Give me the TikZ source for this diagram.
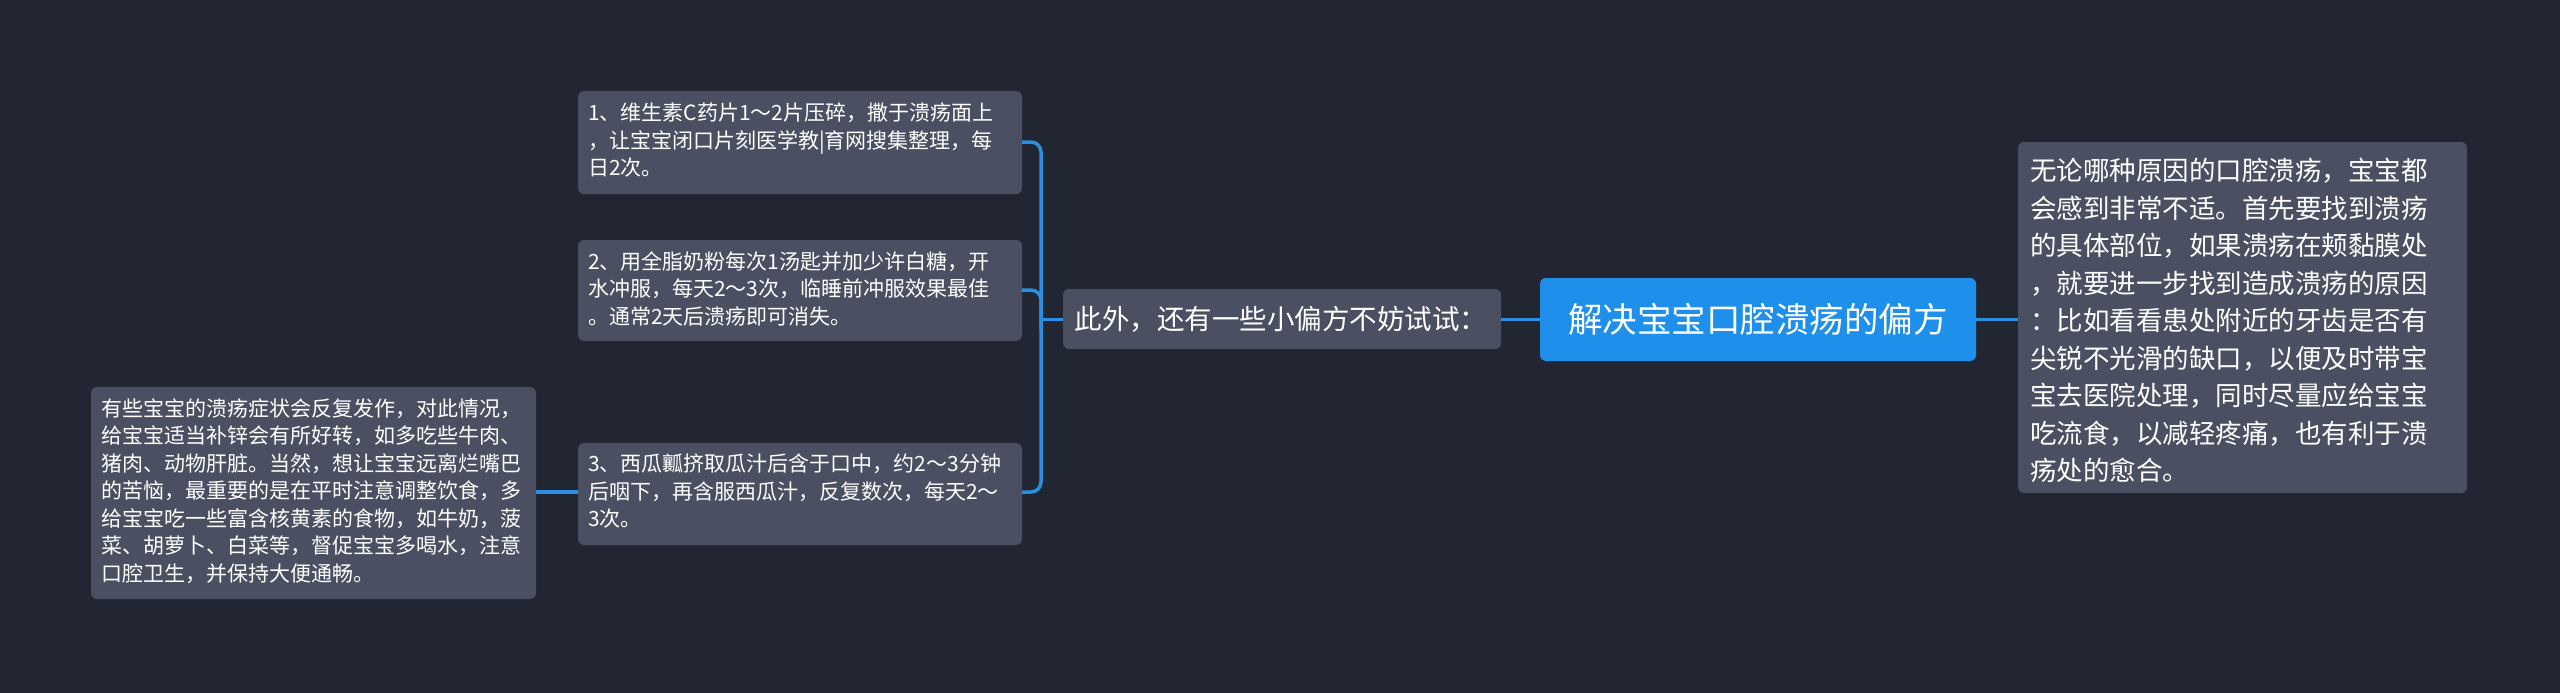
\documentclass[tikz,border=0pt]{standalone}
\usepackage{fontspec}
\setmainfont{Noto Sans CJK SC}
\definecolor{bg}{HTML}{222632}
\definecolor{boxc}{HTML}{4A5061}
\definecolor{ln}{HTML}{2A8FE0}
\definecolor{rootc}{HTML}{1E8FEA}
\begin{document}
\begin{tikzpicture}[x=1pt,y=-1pt,
  conn/.style={draw=ln,line width=3.5pt,rounded corners=10pt},
  small/.style={text=white,align=left,anchor=north west,inner sep=0pt,font=\fontsize{21}{27.5}\selectfont}]
\fill[bg] (0,0) rectangle (2560,693);
\useasboundingbox (0,0) rectangle (2560,693);
% root
\fill[rootc,rounded corners=6pt] (1540,278) rectangle (1976,361);
\node[text=white,font=\fontsize{34.5}{40}\selectfont] (root) at (1758,319.5) {解决宝宝口腔溃疡的偏方};
\coordinate (rootL) at (1540,319.5); \coordinate (rootR) at (1976,319.5);
% mid
\fill[boxc,rounded corners=6pt] (1063,289) rectangle (1501,349);
\node[text=white,font=\fontsize{27.5}{32}\selectfont] (mid) at (1281,319) {此外，还有一些小偏方不妨试试：};
\coordinate (midL) at (1063,319.5); \coordinate (midR) at (1501,319.5);
% right box
\fill[boxc,rounded corners=6pt] (2018,142) rectangle (2467,493);
\node[text=white,align=left,anchor=north west,inner sep=0pt,font=\fontsize{26.5}{37.5}\selectfont] (rb) at (2030,158) {无论哪种原因的口腔溃疡，宝宝都\\会感到非常不适。首先要找到溃疡\\的具体部位，如果溃疡在颊黏膜处\\，就要进一步找到造成溃疡的原因\\：比如看看患处附近的牙齿是否有\\尖锐不光滑的缺口，以便及时带宝\\宝去医院处理，同时尽量应给宝宝\\吃流食，以减轻疼痛，也有利于溃\\疡处的愈合。};
\coordinate (rbL) at (2018,319.5);
% boxes
\fill[boxc,rounded corners=6pt] (578,91) rectangle (1022,194);
\node[small] (b1) at (588,103) {1、维生素C药片1～2片压碎，撒于溃疡面上\\，让宝宝闭口片刻医学教|育网搜集整理，每\\日2次。};
\coordinate (b1R) at (1022,142);
\fill[boxc,rounded corners=6pt] (578,240) rectangle (1022,341);
\node[small] (b2) at (588,251) {2、用全脂奶粉每次1汤匙并加少许白糖，开\\水冲服，每天2～3次，临睡前冲服效果最佳\\。通常2天后溃疡即可消失。};
\coordinate (b2R) at (1022,290);
\fill[boxc,rounded corners=6pt] (578,443) rectangle (1022,545);
\node[small] (b3) at (588,454) {3、西瓜瓤挤取瓜汁后含于口中，约2～3分钟\\后咽下，再含服西瓜汁，反复数次，每天2～\\3次。};
\coordinate (b3R) at (1022,492); \coordinate (b3L) at (578,492);
\fill[boxc,rounded corners=6pt] (91,387) rectangle (536,599);
\node[small] (lb) at (101,398) {有些宝宝的溃疡症状会反复发作，对此情况，\\给宝宝适当补锌会有所好转，如多吃些牛肉、\\猪肉、动物肝脏。当然，想让宝宝远离烂嘴巴\\的苦恼，最重要的是在平时注意调整饮食，多\\给宝宝吃一些富含核黄素的食物，如牛奶，菠\\菜、胡萝卜、白菜等，督促宝宝多喝水，注意\\口腔卫生，并保持大便通畅。};
\coordinate (lbR) at (536,492);
% connectors
\draw[conn] (rootL) -- (midR);
\draw[conn] (rootR) -- (rbL);
\draw[conn] (midL) -- (1041,319.5);
\draw[conn] (b1R) -- (1041,142) -- (1041,492) -- (b3R);
\draw[conn] (b2R) -- (1041,290) -- (1041,330);
\draw[conn] (b3L) -- (lbR);
\end{tikzpicture}
\end{document}
